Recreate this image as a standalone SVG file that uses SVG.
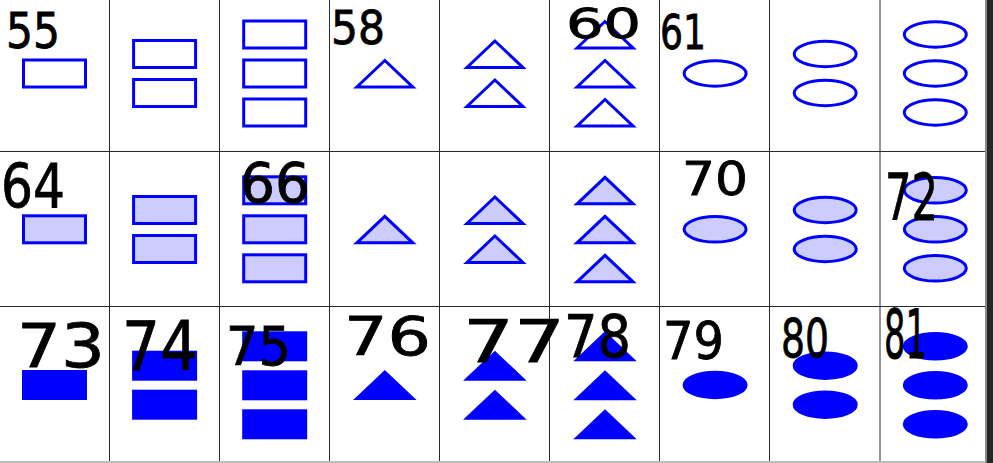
<svg xmlns="http://www.w3.org/2000/svg" width="993" height="463" viewBox="0 0 993 463">
<style>
.grid{stroke:#2a2a2a;stroke-width:1;fill:none}
.o{fill:none;stroke:#0000ff;stroke-width:3}
.l{fill:#ccccff;stroke:#0000ff;stroke-width:3}
.f{fill:#0000ff;stroke:#0000ff;stroke-width:3}
.n{font-family:"DejaVu Sans","Liberation Sans",sans-serif;fill:#000;stroke:#000;stroke-width:0.8}
</style>
<defs>
<rect id="R" x="-31" y="-13.5" width="62" height="27"/>
<polygon id="T" points="-28,13.5 0,-13 28,13.5"/>
<ellipse id="E" cx="0" cy="0" rx="31" ry="12.7"/>
</defs>
<rect x="0" y="0" width="993" height="463" fill="#ffffff"/>
<g id="connectors" class="grid">
<path d="M109.5 0V461M219.5 0V461M329.5 0V461M439.5 0V461M549.5 0V461M659.5 0V461M769.5 0V461M880 0V461"/>
<path d="M0 151.5H985M0 306.5H985"/>
</g>
<rect x="0" y="461" width="985" height="2" fill="#bdbdbd"/>
<rect x="985" y="0" width="2" height="463" fill="#8a8a8a"/>
<rect x="987" y="0" width="6" height="463" fill="#262626"/>

<!-- row 0 -->
<g id="cell-55"><use href="#R" class="o" x="54.5" y="73.5"/><text class="n" x="6" y="48" font-size="50" textLength="54" lengthAdjust="spacingAndGlyphs">55</text></g>
<g id="cell-56"><use href="#R" class="o" x="164.6" y="54"/><use href="#R" class="o" x="164.6" y="93"/></g>
<g id="cell-57"><use href="#R" class="o" x="274.7" y="34.5"/><use href="#R" class="o" x="274.7" y="73.5"/><use href="#R" class="o" x="274.7" y="112.5"/></g>
<g id="cell-58"><use href="#T" class="o" x="384.8" y="73.5"/><text class="n" x="331" y="44" font-size="46" textLength="54" lengthAdjust="spacingAndGlyphs">58</text></g>
<g id="cell-59"><use href="#T" class="o" x="494.9" y="54"/><use href="#T" class="o" x="494.9" y="93"/></g>
<g id="cell-60"><use href="#T" class="o" x="605" y="34.5"/><use href="#T" class="o" x="605" y="73.5"/><use href="#T" class="o" x="605" y="112.5"/><text class="n" x="566" y="38" font-size="40" textLength="75" lengthAdjust="spacingAndGlyphs">60</text></g>
<g id="cell-61"><use href="#E" class="o" x="715.1" y="73.5"/><text class="n" x="660" y="49" font-size="48" textLength="46" lengthAdjust="spacingAndGlyphs">61</text></g>
<g id="cell-62"><use href="#E" class="o" x="825.2" y="54"/><use href="#E" class="o" x="825.2" y="93"/></g>
<g id="cell-63"><use href="#E" class="o" x="935.3" y="34.5"/><use href="#E" class="o" x="935.3" y="73.5"/><use href="#E" class="o" x="935.3" y="112.5"/></g>

<!-- row 1 -->
<g id="cell-64"><use href="#R" class="l" x="54.5" y="229.3"/><text class="n" x="1" y="207" font-size="60" textLength="64" lengthAdjust="spacingAndGlyphs">64</text></g>
<g id="cell-65"><use href="#R" class="l" x="164.6" y="210"/><use href="#R" class="l" x="164.6" y="249"/></g>
<g id="cell-66"><use href="#R" class="l" x="274.7" y="190.3"/><use href="#R" class="l" x="274.7" y="229.3"/><use href="#R" class="l" x="274.7" y="268.3"/><text class="n" x="240" y="202" font-size="56" textLength="70" lengthAdjust="spacingAndGlyphs">66</text></g>
<g id="cell-67"><use href="#T" class="l" x="384.8" y="229.3"/></g>
<g id="cell-68"><use href="#T" class="l" x="494.9" y="210"/><use href="#T" class="l" x="494.9" y="249"/></g>
<g id="cell-69"><use href="#T" class="l" x="605" y="190.3"/><use href="#T" class="l" x="605" y="229.3"/><use href="#T" class="l" x="605" y="268.3"/></g>
<g id="cell-70"><use href="#E" class="l" x="715.1" y="229.3"/><text class="n" x="682" y="195" font-size="46" textLength="66" lengthAdjust="spacingAndGlyphs">70</text></g>
<g id="cell-71"><use href="#E" class="l" x="825.2" y="210"/><use href="#E" class="l" x="825.2" y="249"/></g>
<g id="cell-72"><use href="#E" class="l" x="935.3" y="190.3"/><use href="#E" class="l" x="935.3" y="229.3"/><use href="#E" class="l" x="935.3" y="268.3"/><text class="n" x="885" y="220" font-size="64" textLength="53" lengthAdjust="spacingAndGlyphs">72</text></g>

<!-- row 2 -->
<g id="cell-73"><use href="#R" class="f" x="54.5" y="385"/><text class="n" x="17" y="367" font-size="61" textLength="88" lengthAdjust="spacingAndGlyphs">73</text></g>
<g id="cell-74"><use href="#R" class="f" x="164.6" y="365.7"/><use href="#R" class="f" x="164.6" y="404.7"/><text class="n" x="122" y="370" font-size="67" textLength="76" lengthAdjust="spacingAndGlyphs">74</text></g>
<g id="cell-75"><use href="#R" class="f" x="274.7" y="346.3"/><use href="#R" class="f" x="274.7" y="385.3"/><use href="#R" class="f" x="274.7" y="424.3"/><text class="n" x="226" y="365" font-size="53" textLength="65" lengthAdjust="spacingAndGlyphs">75</text></g>
<g id="cell-76"><use href="#T" class="f" x="384.8" y="385"/><text class="n" x="344" y="355" font-size="53" textLength="87" lengthAdjust="spacingAndGlyphs">76</text></g>
<g id="cell-77"><use href="#T" class="f" x="494.9" y="365.7"/><use href="#T" class="f" x="494.9" y="404.7"/><text class="n" x="463" y="362" font-size="58" textLength="102" lengthAdjust="spacingAndGlyphs">77</text></g>
<g id="cell-78"><use href="#T" class="f" x="605" y="346.3"/><use href="#T" class="f" x="605" y="385.3"/><use href="#T" class="f" x="605" y="424.3"/><text class="n" x="564" y="357" font-size="58" textLength="67" lengthAdjust="spacingAndGlyphs">78</text></g>
<g id="cell-79"><use href="#E" class="f" x="715.1" y="385"/><text class="n" x="663" y="359" font-size="51" textLength="61" lengthAdjust="spacingAndGlyphs">79</text></g>
<g id="cell-80"><use href="#E" class="f" x="825.2" y="365.7"/><use href="#E" class="f" x="825.2" y="404.7"/><text class="n" x="781" y="357" font-size="53" textLength="48" lengthAdjust="spacingAndGlyphs">80</text></g>
<g id="cell-81"><use href="#E" class="f" x="935.3" y="346.3"/><use href="#E" class="f" x="935.3" y="385.3"/><use href="#E" class="f" x="935.3" y="424.3"/><text class="n" x="884" y="358" font-size="67" textLength="43" lengthAdjust="spacingAndGlyphs">81</text></g>
</svg>
